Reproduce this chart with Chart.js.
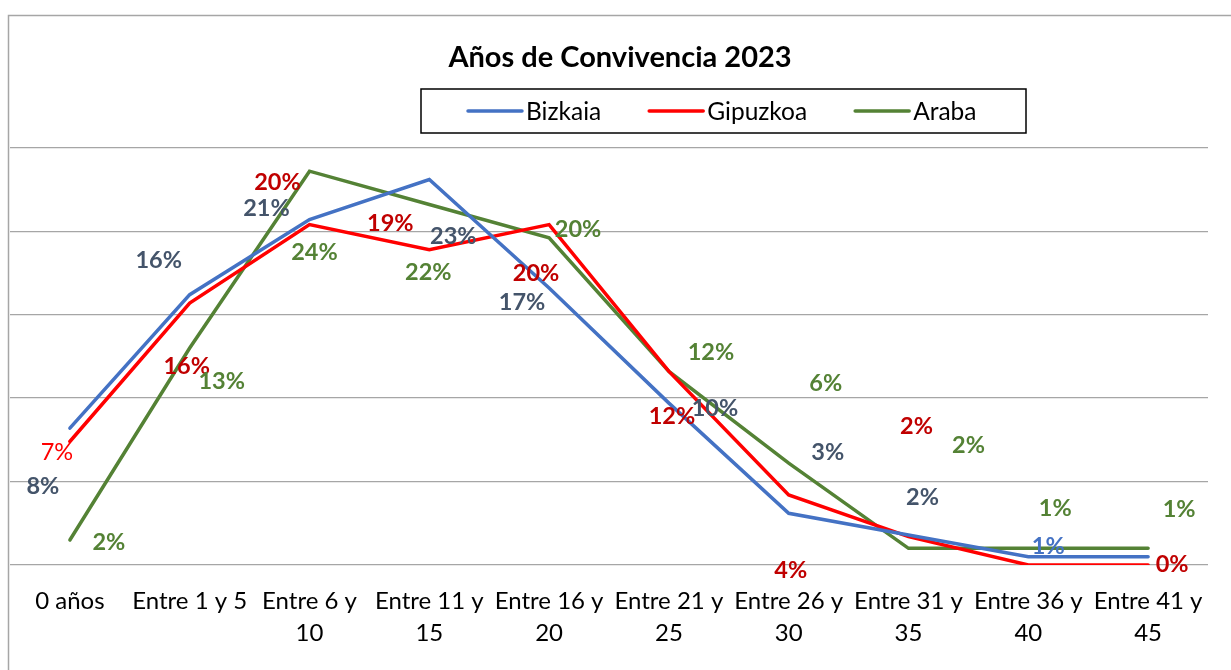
<!DOCTYPE html>
<html lang="es">
<head>
<meta charset="utf-8">
<title>Años de Convivencia 2023</title>
<script src="https://cdn.jsdelivr.net/npm/chart.js@4.4.1/dist/chart.umd.min.js"></script>
<style>
  html, body { margin: 0; padding: 0; background: #fff; }
  #wrap { width: 1231px; height: 670px; position: relative; }
</style>
</head>
<body>
<div id="wrap"><canvas id="chartConvivencia"></canvas></div>
<script>
// categories (x axis) - wrapped the way excel does it
const categories = [
  "0 años", "Entre 1 y 5", ["Entre 6 y", "10"], ["Entre 11 y", "15"], ["Entre 16 y", "20"],
  ["Entre 21 y", "25"], ["Entre 26 y", "30"], ["Entre 31 y", "35"], ["Entre 36 y", "40"], ["Entre 41 y", "45"]
];

// % per province
const bizkaia = [8.2, 16.2, 20.7, 23.1, 16.6, 9.7, 3.1, 1.8, 0.5, 0.5];
const gipuzkoa = [7.4, 15.7, 20.4, 18.9, 20.4, 11.6, 4.2, 1.7, 0, 0];
const araba = [1.5, 13.0, 23.6, 21.6, 19.6, 11.6, 6.1, 1.0, 1.0, 1.0];

// data label texts as printed on the chart ("" = no label)
const bizkaiaLabels = ["8%", "16%", "21%", "23%", "17%", "10%", "3%", "2%", "1%", ""];
const gipuzkoaLabels = ["7%", "16%", "20%", "19%", "20%", "12%", "4%", "2%", "", "0%"];
const arabaLabels = ["2%", "13%", "24%", "22%", "20%", "12%", "6%", "2%", "1%", "1%"];

const yMax = 25;
const yStep = 5;

// ---- styling only below ----
const FONT = "Lato, 'Open Sans', sans-serif";

// label offsets from each point (px), excel had them dragged around
const labelOffsets = {
  Bizkaia: [[-27, 58], [-31, -34], [-43, -11], [24, 57], [-27, 14], [46, 5], [39, -61], [14, -38], [20, -10], [0, 0]],
  Gipuzkoa: [[-13, 11], [-3, 63], [-32, -42], [-39, -26], [-13, 49], [3, 45], [2, 76], [8, -110], [0, 0], [24, -1]],
  Araba: [[39, 2], [32, 33], [5, 81], [-1, 68], [29, -8], [42, -19], [37, -80], [60, -103], [27, -40], [31, -39]]
};
const labelColors = { Bizkaia: "#44546a", Gipuzkoa: "#c00000", Araba: "#548235" };
// a couple of labels kept the default format in the original
const labelOverrides = {
  "Bizkaia-8": { color: "#4472c4" },
  "Gipuzkoa-0": { color: "#ff0000", weight: "normal" }
};

const decorPlugin = {
  id: "excelDecor",
  afterLayout(chart) {
    // title sits a bit right of the plot centre in the original
    if (chart.titleBlock) {
      chart.titleBlock.left += 11;
      chart.titleBlock.right += 11;
    }
  },
  beforeDraw(chart) {
    const ctx = chart.ctx;
    ctx.save();
    ctx.fillStyle = "#fff";
    ctx.fillRect(0, 0, chart.width, chart.height);
    ctx.strokeStyle = "#a6a6a6";
    ctx.lineWidth = 1.5;
    ctx.strokeRect(8.5, 15.5, chart.width + 20, chart.height + 20);
    ctx.restore();
  },
  afterDatasetsDraw(chart) {
    const ctx = chart.ctx;
    ctx.save();
    ctx.textAlign = "center";
    ctx.textBaseline = "middle";
    chart.data.datasets.forEach((ds, i) => {
      const meta = chart.getDatasetMeta(i);
      const offs = labelOffsets[ds.label];
      meta.data.forEach((pt, j) => {
        const txt = ds.pointLabels[j];
        if (!txt) return;
        const o = labelOverrides[ds.label + "-" + j] || {};
        ctx.fillStyle = o.color || labelColors[ds.label];
        ctx.font = (o.weight || "bold") + " 23.5px " + FONT;
        ctx.fillText(txt, pt.x + offs[j][0], pt.y + offs[j][1]);
      });
    });
    ctx.restore();
  },
  afterDraw(chart) {
    // legend box like the excel one
    const ctx = chart.ctx;
    const box = { x: 421, y: 89, w: 605, h: 44 };
    ctx.save();
    ctx.strokeStyle = "#000";
    ctx.lineWidth = 1.5;
    ctx.strokeRect(box.x, box.y, box.w, box.h);
    ctx.font = "24.5px " + FONT;
    ctx.textBaseline = "middle";
    let x = 468;
    const cy = box.y + box.h / 2;
    chart.data.datasets.forEach(ds => {
      ctx.strokeStyle = ds.borderColor;
      ctx.lineWidth = 3.5;
      ctx.lineCap = "round";
      ctx.beginPath();
      ctx.moveTo(x, cy);
      ctx.lineTo(x + 54, cy);
      ctx.stroke();
      ctx.fillStyle = "#000";
      ctx.fillText(ds.label, x + 58, cy + 1);
      x += 58 + ctx.measureText(ds.label).width + 48;
    });
    ctx.restore();
  }
};

function makeDataset(label, data, color, pointLabels) {
  return {
    label,
    data,
    pointLabels,
    borderColor: color,
    backgroundColor: color,
    borderWidth: 3.5,
    borderCapStyle: "round",
    borderJoinStyle: "miter",
    pointRadius: 0,
    pointHoverRadius: 0,
    tension: 0,
    fill: false
  };
}

new Chart(document.getElementById("chartConvivencia"), {
  type: "line",
  data: {
    labels: categories,
    datasets: [
      makeDataset("Bizkaia", bizkaia, "#4472c4", bizkaiaLabels),
      makeDataset("Gipuzkoa", gipuzkoa, "#ff0000", gipuzkoaLabels),
      makeDataset("Araba", araba, "#548235", arabaLabels)
    ]
  },
  options: {
    responsive: true,
    maintainAspectRatio: false,
    animation: false,
    events: [],
    layout: { padding: { left: 10, right: 23, top: 0, bottom: 0 } },
    plugins: {
      legend: { display: false },
      tooltip: { enabled: false },
      title: {
        display: true,
        text: "Años de Convivencia 2023",
        color: "#000",
        font: { family: FONT, size: 29, weight: "bold", lineHeight: 1.2 },
        padding: { top: 40, bottom: 73 }
      }
    },
    scales: {
      x: {
        offset: true,
        grid: { display: false, drawTicks: false },
        border: { display: false },
        ticks: {
          color: "#000",
          font: { family: FONT, size: 24, lineHeight: 1.35 },
          padding: 20,
          maxRotation: 0,
          autoSkip: false
        },
        afterFit: s => { s.height = 105; }
      },
      y: {
        min: 0,
        max: yMax,
        ticks: { display: false, stepSize: yStep },
        grid: { color: "#a6a6a6", lineWidth: 1.3, drawTicks: false },
        border: { display: false },
        afterFit: s => { s.width = 0; }
      }
    }
  },
  plugins: [decorPlugin]
});
</script>
</body>
</html>
